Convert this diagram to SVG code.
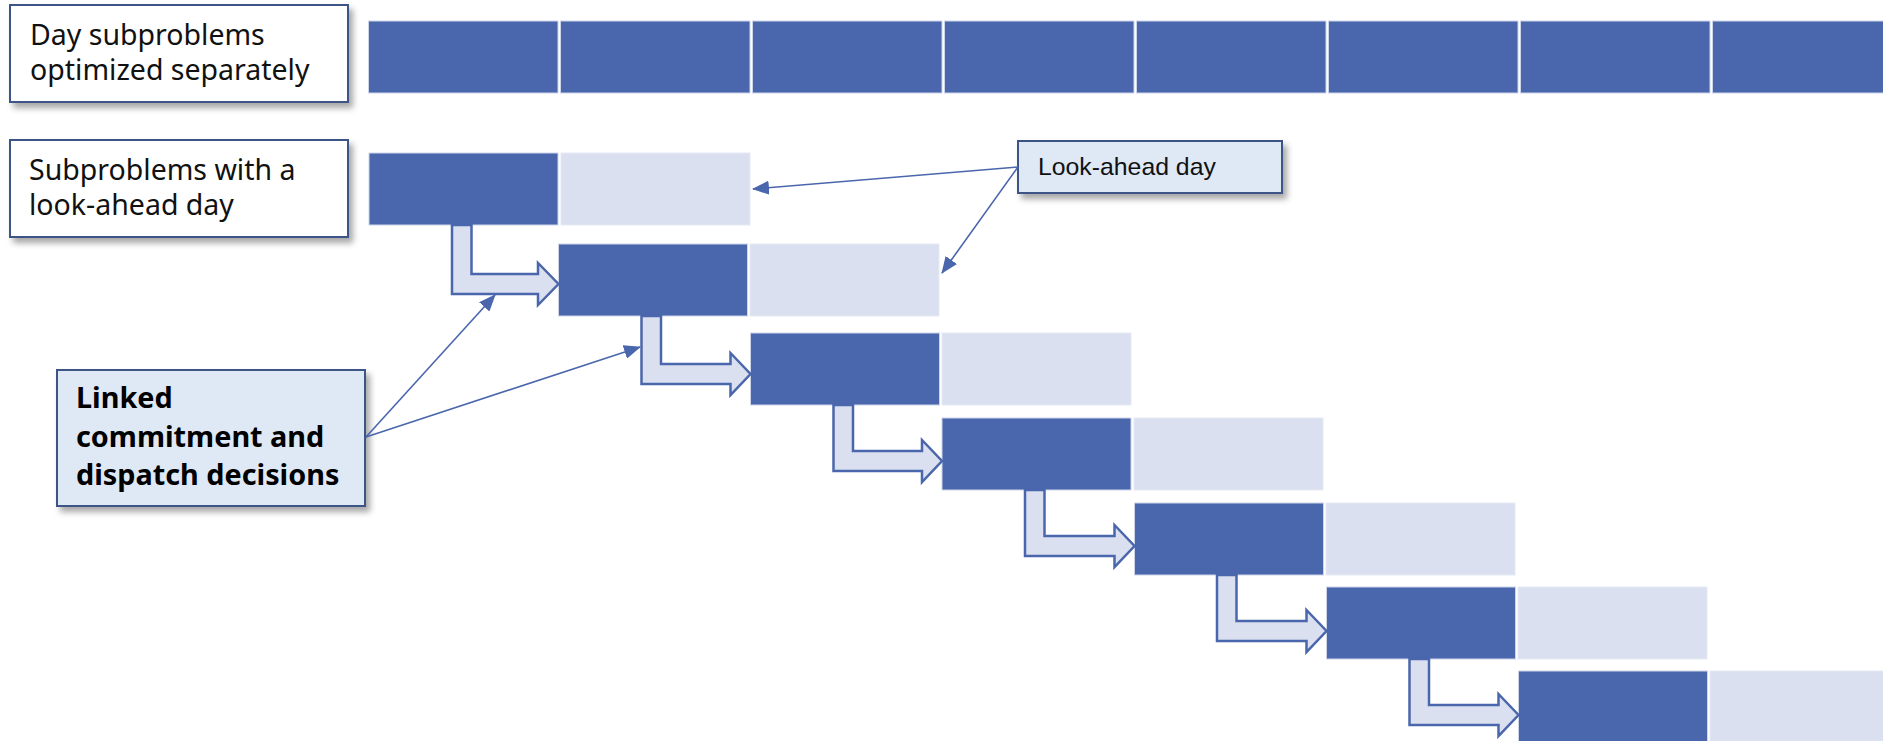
<svg xmlns="http://www.w3.org/2000/svg" width="1883" height="741" viewBox="0 0 1883 741">
<style>
.dk{fill:#4a66ac;stroke:#cdd5ea;stroke-width:1}
.lt{fill:#dae0f0;stroke:#e6eaf5;stroke-width:1}
.bent{fill:#dae0f0;stroke:#4a66ac;stroke-width:2.5;stroke-linejoin:miter}
.call{fill:none;stroke:#4a66ac;stroke-width:1.6}
.box{fill:#ffffff;stroke:#3d5486;stroke-width:2}
.cbox{fill:#dfe8f5;stroke:#3d5486;stroke-width:2}
.t{font-family:"Noto Sans","Open Sans",sans-serif;font-size:28.5px;fill:#111}
.tb{font-family:"Noto Sans","Open Sans",sans-serif;font-size:28.8px;font-weight:bold;fill:#000}
.ts{font-family:"Liberation Sans",Arial,sans-serif;font-size:24.8px;fill:#111}
</style>
<defs>
<filter id="sh" x="-10%" y="-10%" width="125%" height="135%">
<feDropShadow dx="4" dy="5" stdDeviation="3" flood-color="#000" flood-opacity="0.35"/>
</filter>
<marker id="ah" markerUnits="userSpaceOnUse" markerWidth="18" markerHeight="14" refX="16" refY="7" orient="auto">
<path d="M0,0 L17,7 L0,14 Z" fill="#4a66ac"/>
</marker>
</defs>

<g id="top-row">
<rect class="dk" x="368.5" y="21" width="189.5" height="72"/>
<rect class="dk" x="560.5" y="21" width="189.5" height="72"/>
<rect class="dk" x="752.5" y="21" width="189.5" height="72"/>
<rect class="dk" x="944.5" y="21" width="189.5" height="72"/>
<rect class="dk" x="1136.5" y="21" width="189.5" height="72"/>
<rect class="dk" x="1328.5" y="21" width="189.5" height="72"/>
<rect class="dk" x="1520.5" y="21" width="189.5" height="72"/>
<rect class="dk" x="1712.5" y="21" width="189.5" height="72"/>
</g>

<g id="row1">
<rect class="dk" x="369" y="153" width="189" height="72"/>
<rect class="lt" x="561" y="153" width="189" height="72"/>
</g>
<g id="row2">
<rect class="dk" x="558.5" y="244" width="189" height="72"/>
<rect class="lt" x="750" y="244" width="189" height="72"/>
</g>
<g id="row3">
<rect class="dk" x="750.5" y="333" width="189" height="72"/>
<rect class="lt" x="942" y="333" width="189" height="72"/>
</g>
<g id="row4">
<rect class="dk" x="942" y="418" width="189" height="72"/>
<rect class="lt" x="1134" y="418" width="189" height="72"/>
</g>
<g id="row5">
<rect class="dk" x="1134.5" y="503" width="189" height="72"/>
<rect class="lt" x="1326" y="503" width="189" height="72"/>
</g>
<g id="row6">
<rect class="dk" x="1326.5" y="587" width="189" height="72"/>
<rect class="lt" x="1518" y="587" width="189" height="72"/>
</g>
<g id="row7">
<rect class="dk" x="1518.5" y="671" width="189" height="72"/>
<rect class="lt" x="1710" y="671" width="189" height="72"/>
</g>

<g id="box-separate">
<rect class="box" filter="url(#sh)" x="10" y="5" width="338" height="97"/>
<text class="t" x="30" y="45">Day subproblems</text>
<text class="t" x="30" y="80">optimized separately</text>
</g>
<g id="box-lookahead-sub">
<rect class="box" filter="url(#sh)" x="10" y="140" width="338" height="97"/>
<text class="t" x="29" y="180">Subproblems with a</text>
<text class="t" x="29" y="215">look-ahead day</text>
</g>
<g id="box-linked">
<rect class="cbox" filter="url(#sh)" x="57" y="370" width="308" height="136"/>
<text class="tb" x="76" y="408">Linked</text>
<text class="tb" x="76" y="447">commitment and</text>
<text class="tb" x="76" y="485">dispatch decisions</text>
</g>
<g id="box-lookahead-day">
<rect class="cbox" filter="url(#sh)" x="1018" y="141" width="264" height="52"/>
<text class="ts" x="1038" y="175">Look-ahead day</text>
</g>

<g id="connectors">
<path class="bent" d="M452,225 L471.5,225 L471.5,274 L538,274 L538,263 L558.5,284 L538,305 L538,294 L452,294 Z"/>
<path class="bent" d="M641.5,316 L661,316 L661,364 L730.5,364 L730.5,353 L750.5,374 L730.5,395 L730.5,384 L641.5,384 Z"/>
<path class="bent" d="M833.5,405 L853,405 L853,451 L922,451 L922,440 L942,461 L922,482 L922,471 L833.5,471 Z"/>
<path class="bent" d="M1025,490 L1044.5,490 L1044.5,536 L1114.5,536 L1114.5,525 L1134.5,546 L1114.5,567 L1114.5,556 L1025,556 Z"/>
<path class="bent" d="M1217,575 L1236.5,575 L1236.5,621 L1306.5,621 L1306.5,610 L1326.5,631 L1306.5,652 L1306.5,641 L1217,641 Z"/>
<path class="bent" d="M1409.5,659 L1429,659 L1429,705 L1498.5,705 L1498.5,694 L1518.5,715 L1498.5,736 L1498.5,725 L1409.5,725 Z"/>
<line class="call" x1="366" y1="437" x2="495" y2="295" marker-end="url(#ah)"/>
<line class="call" x1="366" y1="437" x2="640" y2="347" marker-end="url(#ah)"/>
<line class="call" x1="1018" y1="167" x2="753" y2="189" marker-end="url(#ah)"/>
<line class="call" x1="1018" y1="167" x2="942" y2="273" marker-end="url(#ah)"/>
</g>
</svg>
